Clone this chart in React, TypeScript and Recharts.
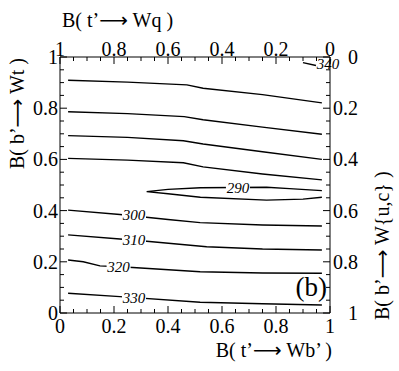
import { ComposedChart, Line, XAxis, YAxis, ReferenceDot } from "recharts";

const SERIF = "Liberation Serif, Times New Roman, Times, DejaVu Serif, serif";

// ticks every 0.05, labels on every 0.2
const tickValues = [
  0, 0.05, 0.1, 0.15, 0.2, 0.25, 0.3, 0.35, 0.4, 0.45, 0.5,
  0.55, 0.6, 0.65, 0.7, 0.75, 0.8, 0.85, 0.9, 0.95, 1,
];

// contour lines, x = B(t'->Wb'), y = B(b'->Wt)
const c340 = [
  { x: 0.9, y: 0.978 },
  { x: 0.948, y: 0.967 },
];
const cTop1 = [
  { x: 0.03, y: 0.909 },
  { x: 0.25, y: 0.902 },
  { x: 0.47, y: 0.891 },
  { x: 0.53, y: 0.878 },
  { x: 0.75, y: 0.853 },
  { x: 0.97, y: 0.821 },
];
const cTop2 = [
  { x: 0.03, y: 0.786 },
  { x: 0.25, y: 0.779 },
  { x: 0.46, y: 0.767 },
  { x: 0.53, y: 0.755 },
  { x: 0.75, y: 0.726 },
  { x: 0.97, y: 0.698 },
];
const cTop3 = [
  { x: 0.03, y: 0.693 },
  { x: 0.25, y: 0.686 },
  { x: 0.457, y: 0.673 },
  { x: 0.53, y: 0.66 },
  { x: 0.75, y: 0.63 },
  { x: 0.97, y: 0.6 },
];
const cTop4 = [
  { x: 0.03, y: 0.604 },
  { x: 0.25, y: 0.597 },
  { x: 0.457, y: 0.587 },
  { x: 0.53, y: 0.571 },
  { x: 0.75, y: 0.543 },
  { x: 0.97, y: 0.52 },
];
const c290 = [
  { x: 0.97, y: 0.478 },
  { x: 0.85, y: 0.486 },
  { x: 0.765, y: 0.491 },
  { x: 0.52, y: 0.489 },
  { x: 0.4, y: 0.483 },
  { x: 0.321, y: 0.474 },
  { x: 0.4, y: 0.466 },
  { x: 0.52, y: 0.452 },
  { x: 0.765, y: 0.441 },
  { x: 0.9, y: 0.445 },
  { x: 0.97, y: 0.452 },
];
const c300 = [
  { x: 0.03, y: 0.402 },
  { x: 0.222, y: 0.385 },
  { x: 0.4, y: 0.365 },
  { x: 0.519, y: 0.353 },
  { x: 0.75, y: 0.344 },
  { x: 0.97, y: 0.34 },
];
const c310 = [
  { x: 0.03, y: 0.305 },
  { x: 0.222, y: 0.289 },
  { x: 0.321, y: 0.28 },
  { x: 0.543, y: 0.259 },
  { x: 0.75, y: 0.25 },
  { x: 0.97, y: 0.246 },
];
const c320 = [
  { x: 0.03, y: 0.207 },
  { x: 0.086, y: 0.2 },
  { x: 0.148, y: 0.184 },
  { x: 0.27, y: 0.178 },
  { x: 0.519, y: 0.161 },
  { x: 0.75, y: 0.156 },
  { x: 0.97, y: 0.155 },
];
const c330 = [
  { x: 0.03, y: 0.077 },
  { x: 0.222, y: 0.064 },
  { x: 0.519, y: 0.042 },
  { x: 0.75, y: 0.036 },
  { x: 0.97, y: 0.031 },
];

const contours = [c340, cTop1, cTop2, cTop3, cTop4, c290, c300, c310, c320, c330];

const contourLabels = [
  { text: "340", x: 0.993, y: 0.972, gap: false },
  { text: "290", x: 0.659, y: 0.489, gap: true },
  { text: "300", x: 0.274, y: 0.381, gap: true },
  { text: "310", x: 0.274, y: 0.284, gap: true },
  { text: "320", x: 0.217, y: 0.181, gap: true },
  { text: "330", x: 0.274, y: 0.06, gap: true },
];

const fmt = (v: number) => String(Math.round(v * 10) / 10);

const labelStyle = { fontFamily: SERIF, fontSize: 20, fill: "#000" };
const arrowStyle = { fontFamily: "DejaVu Sans, sans-serif", fontSize: 20 };

function AxisTick(props: any) {
  const { x, y, payload, side } = props;
  const v = payload.value;
  const major = Math.round(v * 20) % 4 === 0;
  const len = major ? 7 : 4;
  if (side === "bottom") {
    return (
      <g>
        <line x1={x} y1={y} x2={x} y2={y - len} stroke="#000" />
        {major && (
          <text x={x} y={y + 20} textAnchor="middle" style={labelStyle}>
            {fmt(v)}
          </text>
        )}
      </g>
    );
  }
  if (side === "top") {
    return (
      <g>
        <line x1={x} y1={y} x2={x} y2={y + len} stroke="#000" />
        {major && (
          <text x={x} y={y - 1} textAnchor="middle" style={labelStyle}>
            {fmt(v)}
          </text>
        )}
      </g>
    );
  }
  if (side === "left") {
    return (
      <g>
        <line x1={x} y1={y} x2={x + len} y2={y} stroke="#000" />
        {major && (
          <text x={x - 2} y={y + 7} textAnchor="end" style={labelStyle}>
            {fmt(v)}
          </text>
        )}
      </g>
    );
  }
  return (
    <g>
      <line x1={x} y1={y} x2={x - len} y2={y} stroke="#000" />
      {major && (
        <text x={x + 28} y={y + 7} textAnchor="end" style={labelStyle}>
          {fmt(v)}
        </text>
      )}
    </g>
  );
}

function ContourLabel({ cx, cy, text, gap }: any) {
  return (
    <g>
      {gap && <rect x={cx - 12} y={cy - 6} width={24} height={12} fill="#fff" />}
      <text
        x={cx}
        y={cy + 5}
        textAnchor="middle"
        style={{ fontFamily: SERIF, fontStyle: "italic", fontSize: 15, fill: "#000" }}
      >
        {text}
      </text>
    </g>
  );
}

const axisCommon = {
  type: "number" as const,
  domain: [0, 1],
  ticks: tickValues,
  interval: 0,
  tickSize: 0,
  tickMargin: 0,
  tickLine: false,
  axisLine: { stroke: "#000" },
};

export default function App() {
  const titleStyle = { fontFamily: SERIF, fontSize: 20, fill: "#000" };
  return (
    <div style={{ position: "absolute", left: 0, top: 0, width: 399, height: 371, background: "#fff" }}>
      <ComposedChart width={399} height={371} margin={{ top: 27, right: 39, bottom: 28, left: 30 }}>
        <XAxis
          {...axisCommon}
          xAxisId="b"
          dataKey="x"
          height={30}
          tick={(p: any) => <AxisTick {...p} side="bottom" />}
        />
        <XAxis
          {...axisCommon}
          xAxisId="t"
          orientation="top"
          dataKey="x"
          reversed
          height={30}
          tick={(p: any) => <AxisTick {...p} side="top" />}
        />
        <YAxis
          {...axisCommon}
          yAxisId="l"
          dataKey="y"
          width={30}
          tick={(p: any) => <AxisTick {...p} side="left" />}
        />
        <YAxis
          {...axisCommon}
          yAxisId="r"
          orientation="right"
          dataKey="y"
          reversed
          width={30}
          tick={(p: any) => <AxisTick {...p} side="right" />}
        />
        {/* invisible series so the top and right axes get drawn */}
        <Line
          data={c290}
          dataKey="y"
          xAxisId="t"
          yAxisId="r"
          dot={false}
          activeDot={false}
          stroke="none"
          isAnimationActive={false}
        />
        {contours.map((pts, i) => (
          <Line
            key={i}
            data={pts}
            dataKey="y"
            xAxisId="b"
            yAxisId="l"
            type="linear"
            dot={false}
            activeDot={false}
            stroke="#000"
            strokeWidth={1.4}
            isAnimationActive={false}
          />
        ))}
        {contourLabels.map((l) => (
          <ReferenceDot
            key={l.text}
            x={l.x}
            y={l.y}
            xAxisId="b"
            yAxisId="l"
            ifOverflow="visible"
            shape={(p: any) => <ContourLabel cx={p.cx} cy={p.cy} text={l.text} gap={l.gap} />}
          />
        ))}
      </ComposedChart>
      <svg
        width={399}
        height={371}
        style={{ position: "absolute", left: 0, top: 0, pointerEvents: "none" }}
      >
        <text x={62} y={27} style={titleStyle}>
          B( t’<tspan style={arrowStyle}>⟶</tspan> Wq )
        </text>
        <text x={332} y={357} textAnchor="end" style={titleStyle}>
          B( t’<tspan style={arrowStyle}>⟶</tspan> Wb’ )
        </text>
        <text transform="translate(24,58) rotate(-90)" textAnchor="end" style={titleStyle}>
          B( b’<tspan style={arrowStyle}>⟶</tspan> Wt )
        </text>
        <text transform="translate(389,320) rotate(-90)" style={titleStyle}>
          B( b’<tspan style={arrowStyle}>⟶</tspan> W{"{u,c}"} )
        </text>
        <text x={327} y={296} textAnchor="end" style={{ ...titleStyle, fontSize: 27 }}>
          (b)
        </text>
      </svg>
    </div>
  );
}
